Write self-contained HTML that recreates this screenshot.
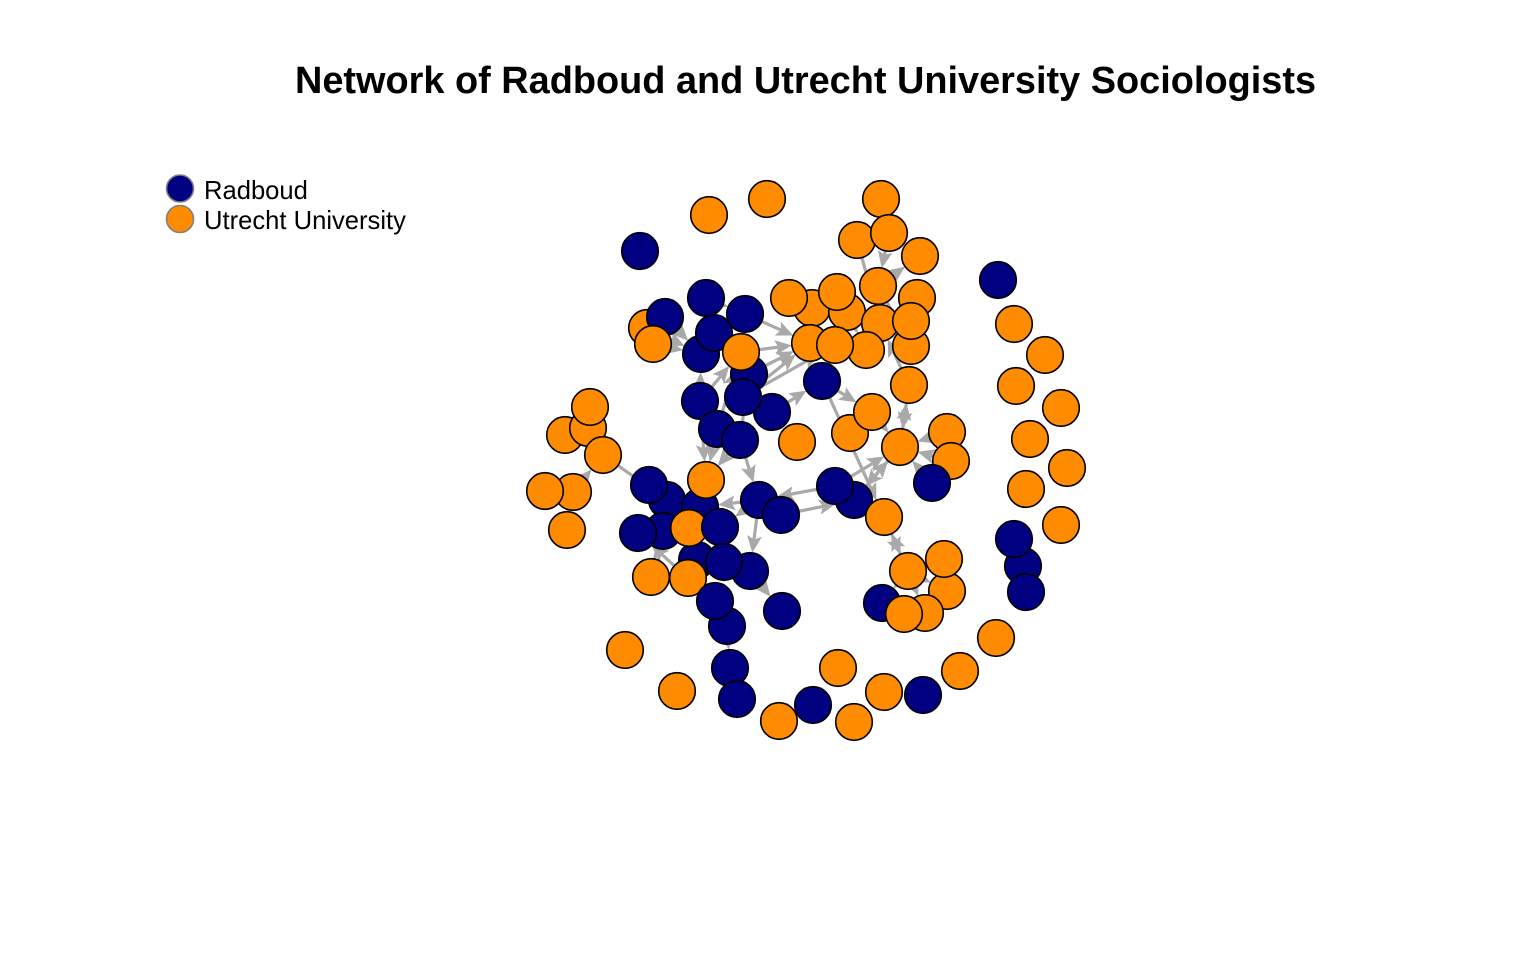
<!DOCTYPE html>
<html lang="en">
<head>
<meta charset="utf-8">
<title>Network of Radboud and Utrecht University Sociologists</title>
<style>
html,body{margin:0;padding:0;background:#fff;}
svg{display:block;}
text{font-family:"Liberation Sans",Arial,sans-serif;fill:#000;}
</style>
</head>
<body>
<svg id="chart" width="1536" height="960" viewBox="0 0 1536 960" xmlns="http://www.w3.org/2000/svg">
  <rect x="0" y="0" width="1536" height="960" fill="#fff"/>
  <text x="805.5" y="93" text-anchor="middle" font-size="37.9" font-weight="bold">Network of Radboud and Utrecht University Sociologists</text>
  <g id="edges"></g>
  <g id="nodes"></g>
  <g>
    <circle cx="180" cy="188.500" r="13.500" fill="#000080" stroke="#808080" stroke-width="1.600"/>
    <text x="204" y="199" font-size="25.6">Radboud</text>
    <circle cx="180" cy="219" r="13.500" fill="#FF8C00" stroke="#808080" stroke-width="1.600"/>
    <text x="204" y="229" font-size="25.6">Utrecht University</text>
  </g>
</svg>
<script>
const nodeX = [-19.5,-48.5,-83,37.5,25.5,41.5,57,96,3,-8.5,20.5,15.5,55.5,37,36,30,52.5,52.5,2,14.5,8,51.5,22,33,47,70.5,72.5,63,-4.5,-17,-28.5,-52.5,-50,-30.5,-46,-32.5,-79.5,-70.5,-76.5,-53,-31.5,-44.5,-33,-120.5,-109,-108,-101.5,-116.5,-130.5,-119.5,-69.5,-78.5,-53,-50,-71.5,-84,-54.5,-58.5,-43,-28,-41,-77.5,-59,-39.5,-45.5,-12,-23.5,-12.5,24,14.5,39,70.5,69,51,38,59.5,49,108.5,110,104,127.5,110,130.5,112,127.5,105,119.5,104,-90.5,-64.5,-38,-34.5,16,39,58.5,3.5,-13.5,24,77,95];
const nodeY = [130.5,122.5,104.5,130.5,110,113.5,102,90,76,81,74,84,81,68.5,87,55,57,69.5,58.5,57.5,39.5,37.5,13.5,24,6.5,14,-0.5,-11.5,9,24,43,53,81,73,63.5,54,66,71.5,58,29.5,31.5,15.5,10,12.5,16,26.5,2.5,-16,-15.5,-35,-20,-12.5,-23.5,-10,-35.5,-36.5,-50,-34,-33.5,-55.5,-51,-58.5,-59,-83,-70.5,-75.5,-20,-27.5,-20,-13,-28.5,-65.5,-49.5,-55.5,-71.5,-76.5,-77,-53,-66,-39.5,-32.5,-14.5,-4,10.5,26,37,52.5,68,-95,-115.5,-104,-119.5,-104,-116,-117.5,-122.5,-130.5,-131,-105.5,-89];
const nodeUniversity = ["U","U","R","U","U","U","U","R","U","U","U","U","U","U","U","U","U","U","U","U","R","U","U","U","U","U","U","R","U","R","R","R","R","R","R","U","U","R","U","R","R","R","R","U","U","U","U","U","U","U","R","R","R","U","R","R","R","U","R","R","R","U","U","R","R","R","R","R","R","R","U","U","U","U","R","U","U","R","R","R","U","U","U","U","U","U","U","U","U","U","R","R","U","U","R","R","U","U","U","U"];
const edgeFrom = [4,5,14,14,13,33,35,30,40,29,40,37,38,36,39,39,41,42,41,39,42,41,42,66,66,66,69,67,59,46,47,61,62,63,20,20,21,24,23,25,26,27,69,68,24,70,73,73,73,73,21,10,8,32,19,60];
const edgeTo = [13,14,6,16,17,18,18,18,18,20,19,31,31,31,31,35,35,30,53,53,53,39,66,52,58,59,66,68,65,50,46,50,55,90,23,70,24,21,24,24,24,24,24,24,68,73,70,71,74,75,13,15,18,33,15,59];

const layoutScale = 2;
const xOrigin = 806;
const yOrigin = 460;
const xAxis = v => xOrigin + v * layoutScale;
const yAxis = v => yOrigin - v * layoutScale;

const NODE_RADIUS = 18.3;
const ARROW_LENGTH = 17;
const ARROW_HALF = 7.5;
const ARROW_NOTCH = 13.5;
const EDGE_COLOR = "#A9A9A9";
const FILLS = { R: "#000080", U: "#FF8C00" };
const SVGNS = "http://www.w3.org/2000/svg";
const edgeLayer = document.getElementById("edges");
const nodeLayer = document.getElementById("nodes");

edgeFrom.forEach((from, i) => {
  const to = edgeTo[i];
  const x1 = xAxis(nodeX[from]), y1 = yAxis(nodeY[from]);
  const x2 = xAxis(nodeX[to]), y2 = yAxis(nodeY[to]);
  const dx = x2 - x1, dy = y2 - y1;
  const d = Math.hypot(dx, dy) || 1;
  const ux = dx / d, uy = dy / d;
  const tipX = x2 - ux * NODE_RADIUS, tipY = y2 - uy * NODE_RADIUS;
  const startX = x1 + ux * NODE_RADIUS, startY = y1 + uy * NODE_RADIUS;
  const neckX = tipX - ux * ARROW_NOTCH, neckY = tipY - uy * ARROW_NOTCH;

  const line = document.createElementNS(SVGNS, "line");
  line.setAttribute("x1", startX);
  line.setAttribute("y1", startY);
  line.setAttribute("x2", neckX);
  line.setAttribute("y2", neckY);
  line.setAttribute("stroke", EDGE_COLOR);
  line.setAttribute("stroke-width", "3.2");
  
  
  edgeLayer.appendChild(line);

  const backX = tipX - ux * ARROW_LENGTH, backY = tipY - uy * ARROW_LENGTH;
  const pts = [
    [tipX, tipY],
    [backX - uy * ARROW_HALF, backY + ux * ARROW_HALF],
    [neckX, neckY],
    [backX + uy * ARROW_HALF, backY - ux * ARROW_HALF]
  ].map(p => p[0].toFixed(2) + "," + p[1].toFixed(2)).join(" ");
  const head = document.createElementNS(SVGNS, "polygon");
  head.setAttribute("points", pts);
  head.setAttribute("fill", EDGE_COLOR);
  
  
  edgeLayer.appendChild(head);
});

nodeX.forEach((x, i) => {
  const group = nodeUniversity[i];
  const c = document.createElementNS(SVGNS, "circle");
  c.setAttribute("cx", xAxis(x));
  c.setAttribute("cy", yAxis(nodeY[i]));
  c.setAttribute("r", NODE_RADIUS);
  c.setAttribute("fill", FILLS[group]);
  c.setAttribute("stroke", "#000");
  c.setAttribute("stroke-width", "1.6");
  
  
  nodeLayer.appendChild(c);
});
</script>
</body>
</html>
